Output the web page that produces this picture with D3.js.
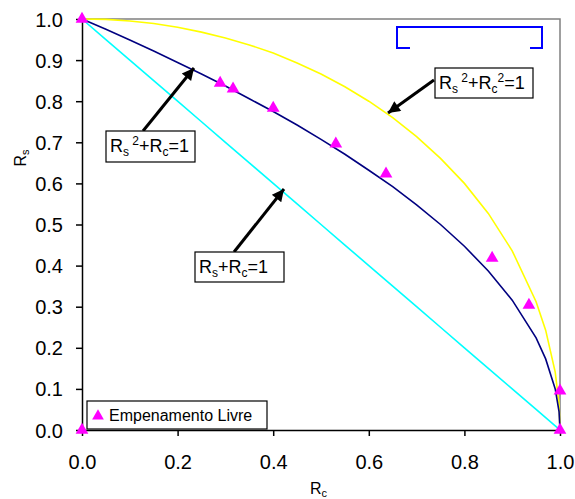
<!DOCTYPE html>
<html><head><meta charset="utf-8">
<script src="https://cdn.jsdelivr.net/npm/d3@7"></script>
<style>body{margin:0;background:#fff}svg{display:block;font-family:"Liberation Sans",Arial,sans-serif}</style>
</head><body><svg id="c" width="575" height="499"></svg>
<script>
// Curve samples
const rcGrid = [0,0.05,0.1,0.15,0.2,0.25,0.3,0.35,0.4,0.45,0.5,0.55,0.6,0.65,0.7,0.75,0.8,0.85,0.9,0.95,0.97,0.99,0.998,1];
const rsCircle = [1,0.999,0.995,0.989,0.980,0.968,0.954,0.937,0.917,0.893,0.866,0.835,0.800,0.760,0.714,0.661,0.600,0.527,0.436,0.312,0.243,0.141,0.063,0];
const rsSqrt = [1,0.975,0.949,0.922,0.894,0.866,0.837,0.806,0.775,0.742,0.707,0.671,0.632,0.592,0.548,0.500,0.447,0.387,0.316,0.224,0.173,0.100,0.045,0];
const rsLinear = [1,0.95,0.9,0.85,0.8,0.75,0.7,0.65,0.6,0.55,0.5,0.45,0.4,0.35,0.3,0.25,0.2,0.15,0.1,0.05,0.03,0.01,0.002,0];
// Experimental points "Empenamento Livre"
const ptRc = [0,0,0.289,0.316,0.400,0.531,0.636,0.858,0.935,1.0,1.0];
const ptRs = [1.0,0,0.844,0.830,0.783,0.696,0.623,0.418,0.304,0.095,0];
const ticks = [0,0.2,0.4,0.6,0.8,1.0];
const yTicks = [0,0.1,0.2,0.3,0.4,0.5,0.6,0.7,0.8,0.9,1.0];

const svg = d3.select("#c");
const x = d3.scaleLinear().domain([0,1]).range([82,560]);
const y = d3.scaleLinear().domain([0,1]).range([430,19]);

// frame (top/right gray)
svg.append("path").attr("d",`M${x(0)},${y(1)}H${x(1)}V${y(0)}`).attr("fill","none").attr("stroke","#808080").attr("stroke-width",1.5);

// curves
const line = d3.line().x(d=>x(d[0])).y(d=>y(d[1]));
const series = [[rsLinear,"#00ffff"],[rsCircle,"#ffff00"],[rsSqrt,"#000080"]];
series.forEach(([vals,col])=>{
  svg.append("path").datum(rcGrid.map((r,i)=>[r,vals[i]])).attr("d",line)
    .attr("fill","none").attr("stroke",col).attr("stroke-width",1.6);
});

// axes
const xAxis = d3.axisBottom(x).tickValues(ticks).tickFormat(d3.format(".1f")).tickSize(6).tickSizeOuter(0).tickPadding(19);
const yAxis = d3.axisLeft(y).tickValues(yTicks).tickFormat(d3.format(".1f")).tickSize(6).tickSizeOuter(0).tickPadding(13);
const gx = svg.append("g").attr("transform",`translate(0,${y(0)})`).call(xAxis);
const gy = svg.append("g").attr("transform",`translate(${x(0)},0)`).call(yAxis);
[gx,gy].forEach(g=>{
  g.selectAll("path,line").attr("stroke","#000").attr("stroke-width",1.5);
  g.selectAll("text").attr("font-size",20).attr("fill","#000").attr("font-family","Liberation Sans, Arial, sans-serif");
});
gy.selectAll("text").attr("dy","0.35em");

// axis titles
const tl = svg.append("text").attr("font-size",16).attr("transform","translate(26,158) rotate(-90)").attr("text-anchor","middle");
tl.append("tspan").text("R");
tl.append("tspan").attr("font-size",11).attr("dy",3).text("s");
const tb = svg.append("text").attr("font-size",16).attr("x",310).attr("y",494);
tb.append("tspan").text("R");
tb.append("tspan").attr("font-size",11).attr("dy",3).text("c");

// points
const tri = d3.symbol().type(d3.symbolTriangle).size(70);
svg.append("g").selectAll("path").data(ptRc.map((r,i)=>[r,ptRs[i]])).join("path")
  .attr("d",tri).attr("transform",d=>`translate(${x(d[0])},${y(d[1])})`).attr("fill","#ff00ff");

// blue bracket (empty legend)
svg.append("path").attr("d","M410,48H397V27H542V48H530").attr("fill","none").attr("stroke","#0000ff").attr("stroke-width",2);

// arrows
svg.append("defs").append("marker").attr("id","ah").attr("viewBox","0 0 10 10").attr("refX",10).attr("refY",5)
  .attr("markerWidth",5).attr("markerHeight",4).attr("markerUnits","strokeWidth").attr("orient","auto")
  .append("path").attr("d","M0,0L10,5L0,10z").attr("fill","#000");
const arrows = [[143,131,194,68],[234,252,284,189],[434,80,388,113]];
arrows.forEach(a=>{
  svg.append("line").attr("x1",a[0]).attr("y1",a[1]).attr("x2",a[2]).attr("y2",a[3])
    .attr("stroke","#000").attr("stroke-width",3).attr("marker-end","url(#ah)");
});

// annotation boxes
function label(bx,by,bw,bh,parts){
  svg.append("rect").attr("x",bx).attr("y",by).attr("width",bw).attr("height",bh).attr("fill","#fff").attr("stroke","#000").attr("stroke-width",1.2);
  const t = svg.append("text").attr("x",bx+4).attr("y",by+21).attr("font-size",18);
  let prev = 0;
  parts.forEach(p=>{
    const off = p[1]==="sub"?4:(p[1]==="sup"?-7:0);
    const s = t.append("tspan").attr("dy",off-prev).text(p[0]);
    if(p[1]!=="n") s.attr("font-size",12);
    prev = off;
  });
}
label(106,131,89,31,[["R","n"],["s","sub"],[" 2","sup"],["+R","n"],["c","sub"],["=1","n"]]);
label(195,252,89,30,[["R","n"],["s","sub"],["+R","n"],["c","sub"],["=1","n"]]);
label(435,68,98,30,[["R","n"],["s","sub"],[" 2","sup"],["+R","n"],["c","sub"],["2","sup"],["=1","n"]]);

// legend
svg.append("rect").attr("x",87).attr("y",401).attr("width",180).attr("height",28).attr("fill","#fff").attr("stroke","#000").attr("stroke-width",1.2);
svg.append("path").attr("d",d3.symbol().type(d3.symbolTriangle).size(60)).attr("transform","translate(98,416)").attr("fill","#ff00ff");
svg.append("text").attr("x",109).attr("y",421).attr("font-size",16).text("Empenamento Livre");
</script></body></html>
